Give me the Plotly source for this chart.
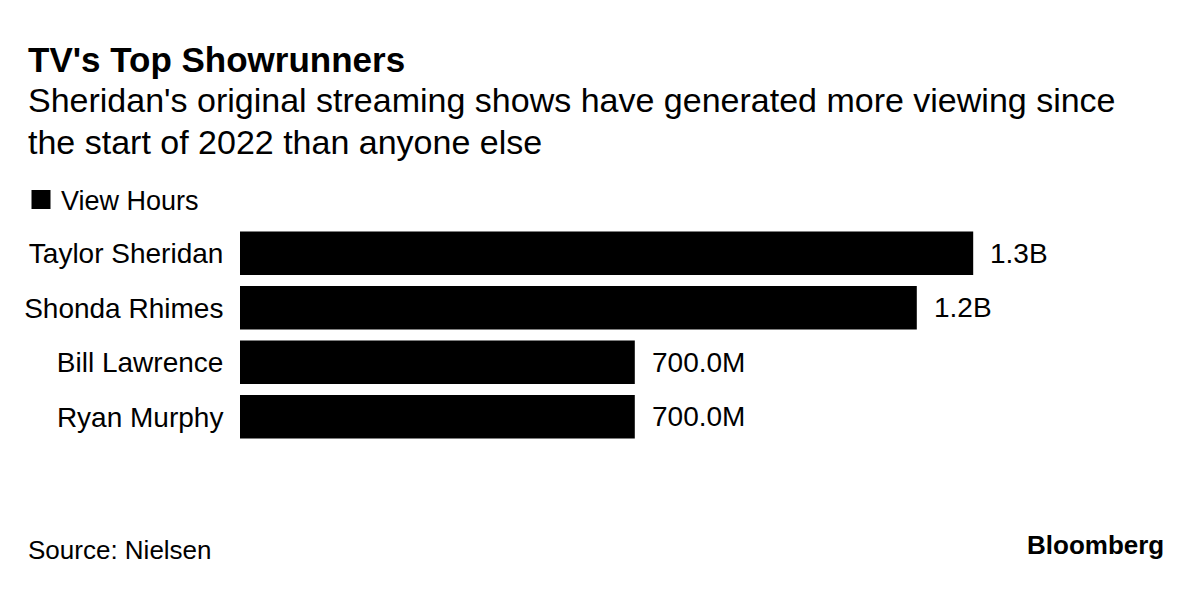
import plotly.graph_objects as go

names = ["Taylor Sheridan", "Shonda Rhimes", "Bill Lawrence", "Ryan Murphy"]
view_hours_b = [1.3, 1.2, 0.7, 0.7]
value_labels = ["1.3B", "1.2B", "700.0M", "700.0M"]

title_text = "TV's Top Showrunners"
subtitle_lines = ["Sheridan's original streaming shows have generated more viewing since",
                  "the start of 2022 than anyone else"]
series_name = "View Hours"
source_text = "Source: Nielsen"
brand_text = "Bloomberg"

OFF = 8  # page body margin
W, H = 1203 - OFF, 590 - OFF
L, R, T, B = 240 - OFF, 33, 226 - OFF, 146
pw, ph = W - L - R, H - T - B
FONT = "Liberation Sans, Arial, sans-serif"


def px_x(x):
    # page pixel -> paper fraction
    return (x - OFF - L) / pw


def px_y(y):
    return (H - B - (y - OFF)) / ph


fig = go.Figure()
fig.add_trace(go.Bar(
    x=view_hours_b, y=names, orientation="h", name=series_name,
    marker=dict(color="#000000", line=dict(width=0)),
    hoverinfo="skip", showlegend=False,
))
# legend entry for the series (square swatch)
fig.add_trace(go.Scatter(
    x=[None], y=[None], mode="markers", name=series_name,
    marker=dict(symbol="square", size=16, color="#000000", line=dict(width=3, color="#000000")),
    hoverinfo="skip", showlegend=True,
))

annotations = []
for n, v, t in zip(names, view_hours_b, value_labels):
    annotations.append(dict(x=v, y=n, xref="x", yref="y", text=t, showarrow=False,
                            xanchor="left", yanchor="middle", xshift=15,
                            font=dict(size=28, color="#000", family=FONT)))

annotations.append(dict(x=px_x(26), y=px_y(59), xref="paper", yref="paper", text="<b>" + title_text + "</b>",
                        showarrow=False, xanchor="left", yanchor="middle",
                        font=dict(size=35, color="#000", family=FONT)))
for i, (line, yc) in enumerate(zip(subtitle_lines, [100, 142])):
    annotations.append(dict(x=px_x(26), y=px_y(yc), xref="paper", yref="paper", text=line,
                            showarrow=False, xanchor="left", yanchor="middle",
                            font=dict(size=34, color="#000", family=FONT)))
annotations.append(dict(x=px_x(26), y=px_y(549.5), xref="paper", yref="paper", text=source_text,
                        showarrow=False, xanchor="left", yanchor="middle",
                        font=dict(size=26, color="#000", family=FONT)))
annotations.append(dict(x=px_x(1166), y=px_y(545), xref="paper", yref="paper", text="<b>" + brand_text + "</b>",
                        showarrow=False, xanchor="right", yanchor="middle",
                        font=dict(size=26, color="#000", family=FONT)))

fig.update_layout(
    width=W, height=H, autosize=False,
    margin=dict(l=L, r=R, t=T, b=B, pad=0),
    paper_bgcolor="#ffffff", plot_bgcolor="#ffffff",
    bargap=0.2,
    font=dict(family=FONT, color="#000", size=27),
    showlegend=True,
    legend=dict(x=px_x(21), y=px_y(200), xanchor="left", yanchor="middle",
                orientation="h", font=dict(size=27, color="#000", family=FONT),
                bgcolor="rgba(0,0,0,0)", itemwidth=30, itemsizing="trace",
                itemclick=False, itemdoubleclick=False),
    annotations=annotations,
    xaxis=dict(range=[0, pw / 564.0], visible=False, fixedrange=True),
    yaxis=dict(autorange="reversed", showgrid=False, zeroline=False, showline=False,
               ticks="outside", ticklen=10, tickcolor="rgba(0,0,0,0)",
               tickfont=dict(size=28, color="#000", family=FONT), fixedrange=True),
)

fig.write_html("out.html", config={"displayModeBar": False})
